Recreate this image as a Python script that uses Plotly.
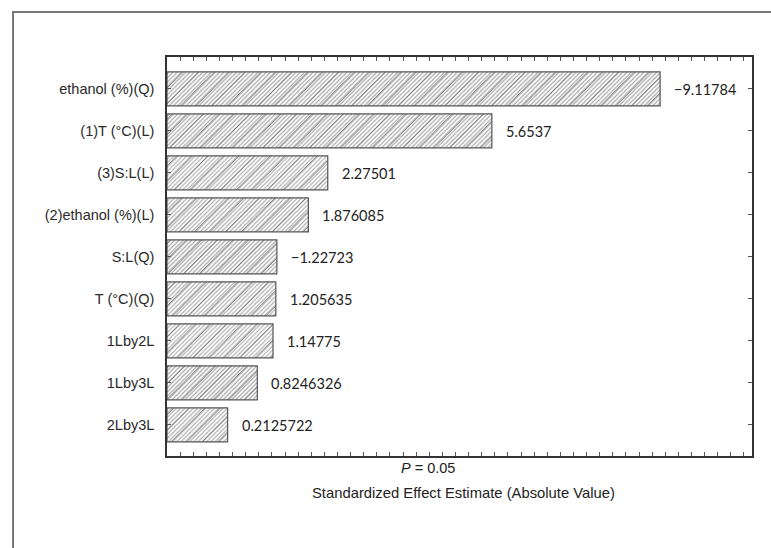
import plotly.graph_objects as go

# Pareto chart of standardized effects
factors = [
    "ethanol (%)(Q)",
    "(1)T (°C)(L)",
    "(3)S:L(L)",
    "(2)ethanol (%)(L)",
    "S:L(Q)",
    "T (°C)(Q)",
    "1Lby2L",
    "1Lby3L",
    "2Lby3L",
]
effects = [-9.11784, 5.6537, 2.27501, 1.876085, -1.22723, 1.205635, 1.14775, 0.8246326, 0.2125722]
effect_labels = [repr(v).replace("-", "\u2212") for v in effects]

X_MIN, X_MAX = -1.035, 11.01
abs_effects = [abs(v) for v in effects]
bar_len = [a - X_MIN for a in abs_effects]

fine_colors = ["#a4a4a4", "#a8a8a8", "#b0b0b0", "#aaaaaa", "#a2a2a2",
               "#acacac", "#b2b2b2", "#a0a0a0", "#acacac"]

SANS = "Arial, Liberation Sans, sans-serif"

fig = go.Figure()

# fine light hatch layer
fig.add_trace(go.Bar(
    y=factors, x=bar_len, base=X_MIN, orientation="h", width=0.81,
    marker=dict(
        color="white",
        line=dict(width=0),
        pattern=dict(shape="/", size=3, solidity=0.38,
                     fgcolor=fine_colors, bgcolor="white", fillmode="replace"),
    ),
    hoverinfo="skip", showlegend=False,
))
# sparse darker hatch layer with outline
fig.add_trace(go.Bar(
    y=factors, x=bar_len, base=X_MIN, orientation="h", width=0.81,
    marker=dict(
        color="rgba(0,0,0,0)",
        line=dict(width=1.2, color="#555555"),
        pattern=dict(shape="/", size=11, solidity=0.08,
                     fgcolor="#666666", bgcolor="rgba(0,0,0,0)", fillmode="replace"),
    ),
    hoverinfo="skip", showlegend=False,
))

annotations = []
for f, a, lab in zip(factors, abs_effects, effect_labels):
    annotations.append(dict(
        x=a, y=f, xref="x", yref="y", text=lab, showarrow=False,
        xanchor="left", yanchor="middle", xshift=12, yshift=-1,
        font=dict(family="Lato", size=14.5, color="#222222"),
    ))

annotations.append(dict(
    x=0.446, y=-0.030, xref="paper", yref="paper", text="<i>P</i> = 0.05",
    showarrow=False, xanchor="center", yanchor="middle",
    font=dict(family=SANS, size=14.5, color="#222222"),
))
annotations.append(dict(
    x=0.506, y=-0.093, xref="paper", yref="paper",
    text="Standardized Effect Estimate (Absolute Value)",
    showarrow=False, xanchor="center", yanchor="middle",
    font=dict(family=SANS, size=14.8, color="#222222"),
))

fig.update_layout(
    width=771, height=548,
    margin=dict(l=167, r=19, t=57, b=92),
    paper_bgcolor="white", plot_bgcolor="white",
    barmode="overlay",
    annotations=annotations,
    shapes=[dict(
        type="path", xref="paper", yref="paper",
        path="M -0.2632,-0.30 L -0.2632,1.1128 L 1.06,1.1128",
        line=dict(color="#777777", width=2),
    )],
    xaxis=dict(
        range=[X_MIN, X_MAX], showgrid=False, zeroline=False,
        showline=True, linecolor="#333333", linewidth=1.5, mirror="ticks",
        ticks="inside", ticklen=4, tickcolor="#555555", tickwidth=1,
        tickmode="linear", tick0=X_MIN, dtick=0.27,
        showticklabels=False,
    ),
    yaxis=dict(
        type="category", categoryorder="array", categoryarray=factors,
        range=[8.74, -0.76], showgrid=False, zeroline=False,
        showline=True, linecolor="#333333", linewidth=1.5, mirror="ticks",
        ticks="inside", ticklen=4, tickcolor="#555555", tickwidth=1,
        ticklabelstandoff=8,
        tickfont=dict(family=SANS, size=14.5, color="#2a2a2a"),
    ),
)

fig.write_html("out.html")
